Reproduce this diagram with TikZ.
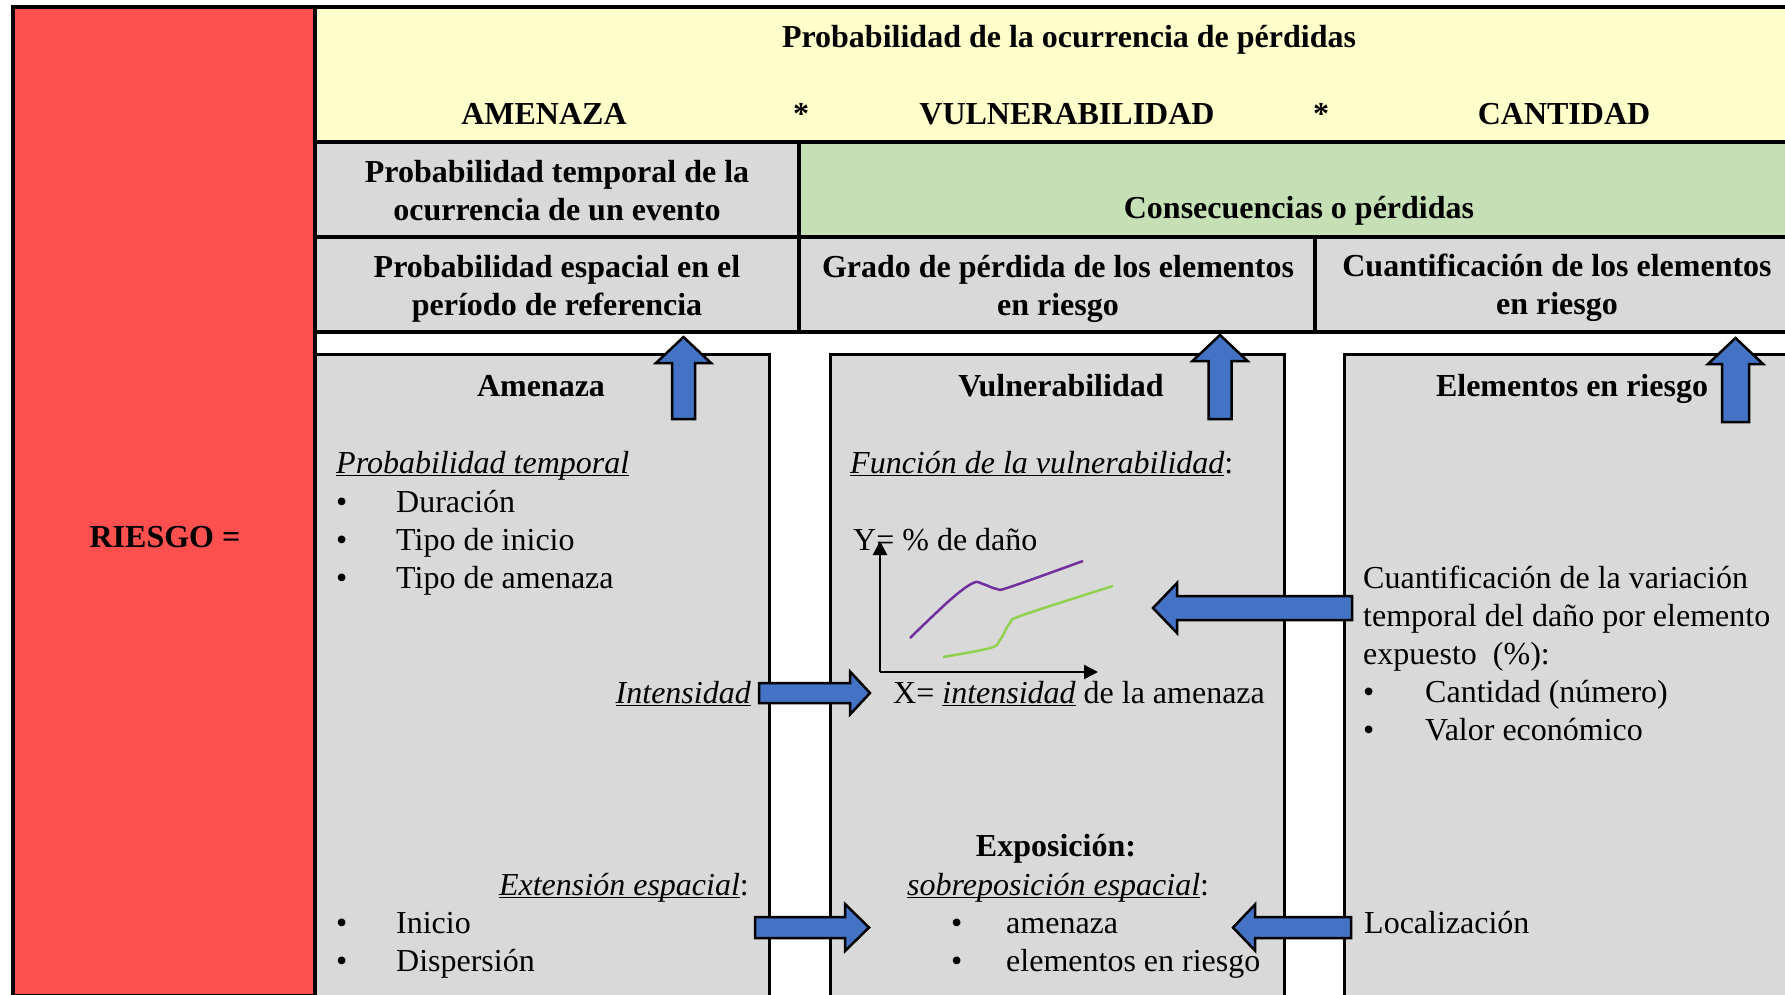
\documentclass[tikz,border=0pt]{standalone}
\usepackage{fontspec}
\setmainfont{Liberation Serif}
\usetikzlibrary{arrows.meta}
\definecolor{riskred}{HTML}{FF5050}
\definecolor{headyellow}{HTML}{FFFFCC}
\definecolor{lossgreen}{HTML}{C5E0B4}
\definecolor{cellgray}{HTML}{D9D9D9}
\definecolor{arrowblue}{HTML}{4472C4}
\definecolor{curvepurple}{HTML}{7030A0}
\definecolor{curvegreen}{HTML}{92D050}
\newcommand{\bigfont}{\fontsize{32}{38}\selectfont}
\newcommand{\ulit}[1]{{\setbox0\hbox{\itshape #1}\rlap{\rule[-3pt]{\wd0}{1.5pt}}\box0}}
\newcommand{\rarrow}[6]{\filldraw[blockarrow] (#1,#4-#5) -- (#2,#4-#5) -- (#2,#4-#6) -- (#3,#4)
  -- (#2,#4+#6) -- (#2,#4+#5) -- (#1,#4+#5) -- cycle;}
\newcommand{\uarrow}[6]{\filldraw[blockarrow] (#1-#5,#2) -- (#1-#5,#3) -- (#1-#6,#3) -- (#1,#4)
  -- (#1+#6,#3) -- (#1+#5,#3) -- (#1+#5,#2) -- cycle;}
\tikzset{
	cell/.style={draw=black,line width=3.5pt},
	lowbox/.style={draw=black,line width=3pt,fill=cellgray},
	blockarrow/.style={draw=black,line width=2.5pt,fill=arrowblue,line join=miter},
	lbl/.style={inner sep=0pt,anchor=base,font=\bigfont},
	hd/.style={lbl,font=\bigfont\bfseries},
	axis/.style={line width=2.5pt,-{Triangle[width=14pt,length=14pt]}},
	curve/.style={line width=2.5pt,smooth,tension=0.6}
}
\begin{document}
\begin{tikzpicture}[x=1pt,y=-1pt]
	\useasboundingbox (0,0) rectangle (1785,994);
	\filldraw[cell,fill=riskred] (13,7) rectangle (315,996);
	\filldraw[cell,fill=headyellow] (315,7) rectangle (1800,142);
	\filldraw[cell,fill=cellgray] (315,142) rectangle (799,237);
	\filldraw[cell,fill=lossgreen] (799,142) rectangle (1800,237);
	\filldraw[cell,fill=cellgray] (315,237) rectangle (799,332);
	\filldraw[cell,fill=cellgray] (799,237) rectangle (1315,332);
	\filldraw[cell,fill=cellgray] (1315,237) rectangle (1800,332);
	\filldraw[lowbox] (315,354) rectangle (769,996);
	\filldraw[lowbox] (830,354) rectangle (1284,996);
	\filldraw[lowbox] (1344,354) rectangle (1800,996);

	\node[hd] (risk) at (165,547) {RIESGO =};
	\node[hd] (loss) at (1069,47) {Probabilidad de la ocurrencia de pérdidas};
	\node[hd] (hazardhd) at (544,124) {AMENAZA};
	\node[hd] (star1) at (801,124) {*};
	\node[hd] (vulnhd) at (1067,124) {VULNERABILIDAD};
	\node[hd] (star2) at (1321,124) {*};
	\node[hd] (amounthd) at (1564,124) {CANTIDAD};
	\node[hd,align=center] (tempprob) at (557,220) {Probabilidad temporal de la\\ocurrencia de un evento};
	\node[hd] (conseq) at (1299,218) {Consecuencias o pérdidas};
	\node[hd,align=center] (spatprob) at (557,315) {Probabilidad espacial en el\\período de referencia};
	\node[hd,align=center] (degree) at (1058,315) {Grado de pérdida de los elementos\\en riesgo};
	\node[hd,align=center] (quant) at (1557,314) {Cuantificación de los elementos\\en riesgo};

	\node[hd] (hazard) at (541,396) {Amenaza};
	\node[hd] (vulner) at (1061,396) {Vulnerabilidad};
	\node[hd] (elements) at (1572,396) {Elementos en riesgo};

	\node[lbl,anchor=base west] (temporal) at (336,473) {\ulit{Probabilidad temporal}};
	\node[lbl,anchor=base west] (templist) at (336,512) {\begin{tabular}[t]{@{}p{60pt}@{}l@{}}
		\textbullet & Duración\\ \textbullet & Tipo de inicio\\ \textbullet & Tipo de amenaza\end{tabular}};
	\node[lbl,anchor=base east] (intens) at (751,703) {\ulit{Intensidad}};
	\node[lbl,anchor=base east] (extent) at (749,895) {\ulit{Extensión espacial}:};
	\node[lbl,anchor=base west] (extlist) at (336,933) {\begin{tabular}[t]{@{}p{60pt}@{}l@{}}
		\textbullet & Inicio\\ \textbullet & Dispersión\end{tabular}};

	\node[lbl,anchor=base west] (func) at (850,473) {\ulit{Función de la vulnerabilidad}:};
	\node[lbl,anchor=base west] (ylabel) at (853,550) {Y= \% de daño};
	\node[lbl,anchor=base west] (xlabel) at (893,703) {X= \ulit{intensidad} de la amenaza};
	\node[hd] (expos) at (1056,856) {Exposición:};
	\node[lbl,anchor=base west] (overlay) at (907,895) {\ulit{sobreposición espacial}:};
	\node[lbl,anchor=base west] (overlist) at (951,933) {\begin{tabular}[t]{@{}p{55pt}@{}l@{}}
		\textbullet & amenaza\\ \textbullet & elementos en riesgo\end{tabular}};

	\node[lbl,anchor=base west] (variation) at (1363,588) {\begin{tabular}[t]{@{}p{62pt}@{}l@{}}
		\multicolumn{2}{@{}l@{}}{Cuantificación de la variación}\\
		\multicolumn{2}{@{}l@{}}{temporal del daño por elemento}\\
		\multicolumn{2}{@{}l@{}}{expuesto~~(\%):}\\
		\textbullet & Cantidad (número)\\ \textbullet & Valor económico\end{tabular}};
	\node[lbl,anchor=base west] (location) at (1364,933) {Localización};

	\coordinate (origin) at (880,672);
	\coordinate (ytip) at (880,541);
	\coordinate (xtip) at (1098,672);
	\draw[axis] (origin) -- (ytip);
	\draw[axis] (origin) -- (xtip);
	\draw[curve,curvepurple] plot coordinates {(910,638) (950,600) (973,583) (983,584) (997,589) (1010,587) (1083,561)};
	\draw[curve,curvegreen] plot coordinates {(943,657) (990,648) (1000,640) (1010,623) (1023,615) (1113,586)};

	\uarrow{683.5}{419}{363}{337}{11.5}{27.5}
	\uarrow{1220}{419}{361}{335}{11.5}{27.5}
	\uarrow{1735.5}{422}{364}{338}{13.5}{27.5}
	\rarrow{759}{850}{870}{693}{10}{21.5}
	\rarrow{755}{845}{869}{927.5}{10.5}{23.5}
	\rarrow{1352}{1177}{1153}{608}{12}{25}
	\rarrow{1351}{1255}{1233}{927.5}{10.5}{23}
\end{tikzpicture}
\end{document}
